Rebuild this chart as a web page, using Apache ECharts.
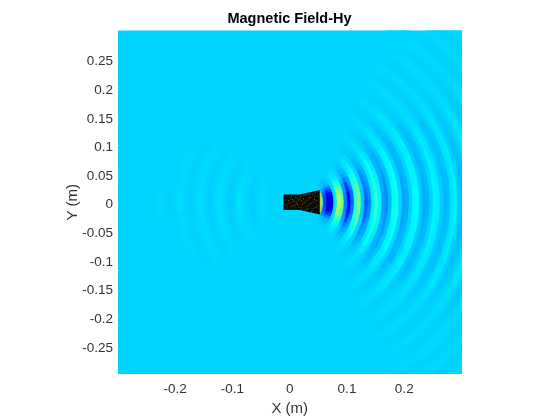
<!DOCTYPE html>
<html><head><meta charset="utf-8"><style>html,body{margin:0;background:#fff}#c{width:560px;height:420px}</style></head><body><div id="c"></div>
<script src="https://cdn.jsdelivr.net/npm/echarts@6/dist/echarts.min.js"></script>
<script>
// Field (jet %), one list per bearing in degrees, upper half; the picture is mirror-symmetric about y=0.
const ringCentre = [0.0107, 0];
const radialStep = 0.006;
const bear0 = [33,33,33,33,33,33,33,45,18,5,10,35,56,50,24,12,22,44,49,32,21,25,36,42,36,28,26,31,37,39,33,28,29,33,36.5,37,32,29,30,33,36,35.5,32,30,31,34.5,36,32.5,30.5,31,33,35.5,34.5,32,30.5,32,34.5,35.5,33,31];
const bear5 = [33,33,33,33,33,33,33,43,18,6,10,35,55,50,25,12,23,43,48,32,22,26,36,42,36,28,26,31,37,39,33,28,29,33,36.5,37,32,29,30,33,36,35.5,32,30,31,34.5,36,32.5,30.5,31,33,35.5,34.5,32,30.5,32,34.5,35.5,33,31];
const bear10 = [33,33,33,33,33,33,33,40,19,7,11,35,54,48,25,13,23,42,47,32,22.5,26.5,36,41,36,28.5,27,31,36.5,38.5,33,28.5,29.5,33,36,36.5,32,29.5,30.5,33,36,35,32,30.5,31,34,35.5,32.5,30.5,31,33,35,34.5,32,31,32,34,35,33,31];
const bear15 = [33,33,33,33,33,33,33,37,20,10,14,34,51,46,27,16,25,41,45,33,24,27.5,36,40,36,29,27.5,31,36,38,33,29,30,33,36,36,32,30,30.5,33,35.5,35,32,30.5,31.5,34,35,32.5,31,31.5,33,35,34,32,31,32,34,35,33,31.5];
const bear20 = [33,33,33,33,33,33,33,35,23,16,19,34,47,43,28,19,27,39,43,33,25.5,28.5,35,39,35.5,29.5,28,31,36,37.5,33,29.5,30,33,35.5,36,32,30,31,33,35.5,34.5,32,31,31.5,34,35,32.5,31,31.5,33,35,34,32,31,32,34,34.5,33,31.5];
const bear25 = [33,33,33,33,33,33,33,34,27,23,25,33,41,39,30,24,28,37,40,33,27,29,34,38,35,30,29,31.5,35.5,36.5,33,30,30.5,33,35,35.5,32,30.5,31,33,35,34.5,32,31,31.5,34,34.5,32.5,31.5,32,33,34.5,34,32,31.5,32,33.8,34.2,33,32];
const bear30 = [33,33,33,33,33,33,33,33,31,29.5,30,33,36.5,36,32,28,30,35,37,33,29,30,34,37,34.5,30,29,31.5,35,36,33,30,30,33,35,35.5,32,30,31,33,34.5,34,32,31,32,33.8,34.5,33,31.5,32,33,34,33.7,32.3,31.7,32.3,33.7,34,33,32.4,32.4,33,33.6,33.3,32.5,32.4,33,33.6,33.3,32.6];
const bear35 = [33,33,33,33,33,33,33,33,32,31,31,33,35,35,32.5,30,31,34,35.5,33,30.5,31,33.5,35.5,34,31,30,32,34.5,35,33,30.5,31,33,34.5,35,32.5,31,31.5,33,34,33.7,32.4,31.6,32.3,33.4,34,33,32,32.3,33,33.6,33.3,32.4,32,32.4,33.3,33.6,33,32.5,32.5,33,33.5,33.2,32.7,32.5,33,33.4,33.2,32.7];
const bear40 = [33,33,33,33,33,33,33,33,32.5,32,32,33,34,34,33,31.5,32,33.5,34.5,33,31.5,32,33,34.5,33.5,32,31,32,34,34.5,33,31.5,31.5,33,34,34.5,33,32,32.3,33,33.6,33.6,32.7,32.2,32.5,33.2,33.6,33,32.5,32.5,33,33.5,33.2,32.7,32.5,32.7,33.2,33.4,33,32.7,32.7,33,33.4,33.2,32.8,32.6,33,33.4,33.2,32.8];
const bear45 = [33,33,33,33,33,33,33,33,33,33,33,33,33,33,33,32.5,32.5,33,33.5,33,32,32.5,33,34,33.5,32.5,32,32.5,33.5,34,33,32,32,33,34,34,33,32.3,32.7,33,33.5,33.5,32.9,32.4,32.7,33.3,33.5,33,32.6,32.7,33,33.4,33.3,32.8,32.6,32.8,33.3,33.4,33,32.7,32.7,33,33.4,33.3,32.8,32.7,33,33.3,33.2,32.8];
const bear50 = [33,33,33,33,33,33,33,33,33,33,33,33,33,33,33,33,33,33,33,33,32.5,32.7,33,33.5,33.3,32.7,32.4,32.8,33.4,33.6,33,32.4,32.5,33,33.6,33.6,33,32.4,32.7,33,33.6,33.5,32.8,32.4,32.7,33.3,33.6,33,32.5,32.7,33,33.5,33.3,32.8,32.5,32.8,33.3,33.5,33,32.6,32.7,33,33.4,33.3,32.8,32.6,33,33.4,33.2,32.8];
const bear55 = [33,33,33,33,33,33,33,33,33,33,33,33,33,33,33,33,33,33,33,33,33,33,33,33.2,33.1,32.8,32.7,32.9,33.2,33.4,33,32.7,32.7,33,33.4,33.4,33,32.7,32.8,33,33.4,33.3,32.9,32.7,32.8,33.2,33.4,33,32.7,32.8,33,33.3,33.2,32.9,32.7,32.9,33.2,33.3,33,32.8];
const bear60 = [33,33,33,33,33,33,33,33,33,33,33,33,33,33,33,33,33,33,33,33,33,33,33,33,33,33,32.9,33,33.1,33.2,33,32.8,32.8,33,33.2,33.2,33,32.8,32.9,33,33.2,33.2,33,32.8,32.9,33.1,33.2,33,32.8,32.9,33,33.2,33.1,33,32.8,32.9,33.1,33.2,33,32.9];
const bear140 = [33,33,33,33,33,33,33,33,33,33,33.1,33,32.9,32.8,32.9,33.1,33.2,33.1,32.9,32.8,32.9,33.1,33.2,33.1,32.9,32.8,33,33.1,33.2,33,32.9,32.9,33,33.1];
const bear150 = [33,33,33,33,33,33,33,32.8,33,33.2,33.3,33,32.8,32.6,32.8,33.2,33.4,33.2,32.8,32.6,32.8,33.2,33.4,33.2,32.8,32.6,33,33.3,33.3,33,32.8,32.7,33,33.2,33.1,33];
const bear160 = [33,33,33,33,33,33,33,32.6,33,33.4,33.5,33,32.7,32.4,32.8,33.4,33.7,33.4,32.7,32.4,32.8,33.4,33.7,33.3,32.7,32.4,33,33.5,33.5,33,32.7,32.6,33,33.4,33.3,32.9,32.8,33];
const bear170 = [33,33,33,33,33,33,33,32.5,33,33.5,33.5,33,32.5,32.2,32.7,33.5,33.9,33.5,32.6,32.2,32.7,33.5,33.9,33.4,32.6,32.3,33,33.6,33.6,33,32.6,32.6,33,33.4,33.2,32.8,32.9,33];
const bear180 = [33,33,33,33,33,33,33,32.5,33,33.5,33.5,33,32.5,32.2,32.7,33.5,34,33.5,32.5,32.2,32.7,33.5,34,33.5,32.5,32.2,33,33.7,33.7,33,32.5,32.5,33,33.6,33.6,33,32.6,32.6,33,33.4,33.2,32.8,33];
const bearings = [0,5,10,15,20,25,30,35,40,45,50,55,60,140,150,160,170,180];
const bearHalfWidths = [2.5,2.5,2.5,2.5,2.5,2.5,2.5,2.5,2.5,2.5,2.5,2.5,2.5,5,5,5,5,5];
const profiles = [bear0,bear5,bear10,bear15,bear20,bear25,bear30,bear35,bear40,bear45,bear50,bear55,bear60,bear140,bear150,bear160,bear170,bear180];
const hornX = [-0.0108,0.0176,0.0526,0.0526,0.0176,-0.0108];
const hornY = [0.0135,0.0135,0.0213,-0.0213,-0.0135,-0.0135];
const apertureX = [0.0535,0.0535];
const apertureY = [0.0170,-0.0170];
const speckX = [-0.007,-0.003,0.001,0.004,0.007,0.010,0.012,0.015,-0.005,0.000,0.003,0.006,0.009,0.013,0.016,-0.002,0.002,0.005,0.008,0.011,0.019,0.022,0.025,0.028,0.031,0.034,0.037,0.040,0.043,0.046,0.049,0.021,0.024,0.027,0.030,0.033,0.036,0.039,0.042,0.045,0.048,0.020,0.026,0.032,0.038,0.044,0.023,0.029,0.035,0.041,0.047,-0.008,0.014,0.018];
const speckY = [0.004,-0.003,0.006,-0.006,0.002,0.008,-0.002,0.004,-0.008,0.000,0.009,0.001,-0.005,0.007,-0.009,0.003,-0.010,0.005,-0.008,0.001,0.010,-0.004,0.012,0.002,-0.012,0.008,-0.002,0.014,0.005,-0.009,0.011,-0.010,0.006,-0.013,0.013,-0.005,0.009,-0.015,0.001,0.016,-0.006,0.003,-0.001,0.004,-0.017,0.010,0.000,-0.007,0.015,-0.011,0.003,-0.004,-0.005,0.006];
const xTicks = {min:-0.3,max:0.3,interval:0.1};
const yTicks = {min:-0.3,max:0.3,interval:0.05};
const titleText = 'Magnetic Field-Hy', xName = 'X (m)', yName = 'Y (m)';

const cells = [];
bearings.forEach((b,k)=>{
  profiles[k].forEach((v,i)=>{
    cells.push([b,i,v,bearHalfWidths[k]]);
    if(b!==0 && b!==180) cells.push([-b,i,v,bearHalfWidths[k]]);
  });
});
const speck = speckX.map((x,i)=>[x,speckY[i]]);
const hornPts = hornX.map((x,i)=>[x,hornY[i]]);
const tickFmt = v => Math.abs(Math.abs(v)-0.3)<1e-6 ? '' : String(+v.toFixed(2));
const ink = '#333333', face = 'Liberation Sans';
const chart = echarts.init(document.getElementById('c'),null,{renderer:'canvas'});
const axisBase = {type:'value',axisLine:{show:false},axisTick:{show:false},splitLine:{show:false},
  nameLocation:'middle',nameMoveOverlap:false,nameTextStyle:{color:ink,fontFamily:face,fontSize:15}};
const labelBase = {color:ink,fontFamily:face,fontSize:13.5,formatter:tickFmt};
chart.setOption({
  animation:false,
  backgroundColor:'#fff',
  title:{text:titleText,left:284.5,top:6,textAlign:'center',textStyle:{color:'#000',fontFamily:face,fontSize:14.5,fontWeight:'bold'}},
  grid:{left:118,top:30.5,width:343.5,height:343.5,show:true,backgroundColor:'#00d5ff',borderWidth:0,outerBoundsMode:'none'},
  xAxis:Object.assign({},axisBase,xTicks,{name:xName,nameGap:27,axisLabel:Object.assign({},labelBase,{margin:8})}),
  yAxis:Object.assign({},axisBase,yTicks,{name:yName,nameGap:38,axisLabel:Object.assign({},labelBase,{margin:5,verticalAlign:'top',lineHeight:5})}),
  visualMap:{show:false,type:'continuous',min:-0.4,max:99.6,dimension:2,seriesIndex:0,
    inRange:{color:['#00008f','#0000ff','#0080ff','#00ffff','#80ff80','#ffff00','#ff8000','#ff0000','#800000']}},
  series:[
    {type:'custom',clip:true,progressive:0,dimensions:['bearing','ring','value','half'],encode:{tooltip:2},data:cells,
      renderItem:(params,api)=>{
        const b=api.value(0), i=api.value(1), hw=api.value(3);
        const r0=i*radialStep, r1=(i+1)*radialStep, pts=[];
        const at=(r,d)=>api.coord([ringCentre[0]+r*Math.cos(d*Math.PI/180),ringCentre[1]+r*Math.sin(d*Math.PI/180)]);
        [-hw,-hw/2,0,hw/2,hw].forEach(o=>pts.push(at(r1,b+o)));
        [hw,hw/2,0,-hw/2,-hw].forEach(o=>pts.push(at(r0,b+o)));
        const col=api.visual('color');
        return {type:'polygon',shape:{points:pts},style:{fill:col,stroke:col,lineWidth:0.7}};
      }},
    {type:'custom',clip:true,data:[0],silent:true,z:3,
      renderItem:(params,api)=>({type:'polygon',shape:{points:hornPts.map(p=>api.coord(p))},style:{fill:'#0b0b08'}})},
    {type:'line',data:apertureX.map((x,i)=>[x,apertureY[i]]),showSymbol:false,silent:true,z:3,lineStyle:{color:'#e8c020',width:1}},
    {type:'scatter',data:speck,symbol:'rect',symbolSize:1,silent:true,z:4,itemStyle:{color:'#8a7016'}}
  ]
});
</script></body></html>
